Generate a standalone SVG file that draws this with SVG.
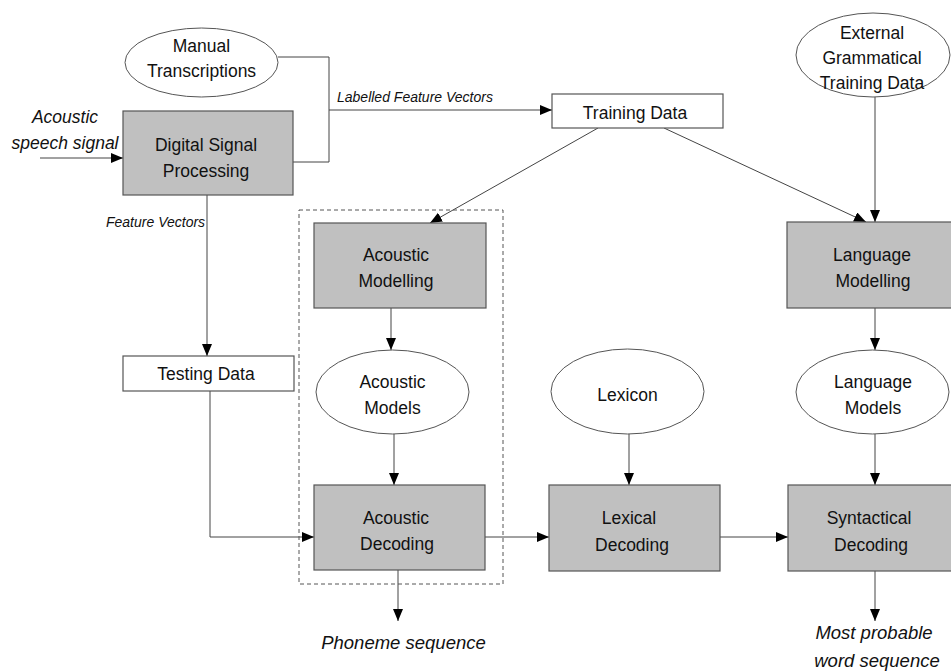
<svg xmlns="http://www.w3.org/2000/svg" width="951" height="671" viewBox="0 0 951 671">
<defs>
<style>
.box{fill:#c0c0c0;stroke:#555;stroke-width:1.2}
.wbox{fill:#fff;stroke:#555;stroke-width:1.2}
.ell{fill:#fff;stroke:#555;stroke-width:1}
.t{font-family:"Liberation Sans",Arial,sans-serif;font-size:17.5px;fill:#111;text-anchor:middle}
.i{font-family:"Liberation Sans",Arial,sans-serif;font-style:italic;fill:#111}
.c{fill:none;stroke:#444;stroke-width:1}
</style>
<marker id="ah" markerUnits="userSpaceOnUse" markerWidth="13" markerHeight="11" refX="12" refY="5" orient="auto">
<path d="M0,0 L12,5 L0,10 z" fill="#000"/>
</marker>
</defs>
<rect width="951" height="671" fill="#fff"/>

<g id="connectors">
<path class="c" d="M40,158 L123,158" marker-end="url(#ah)"/>
<path class="c" d="M278,57 L329,57 L329,162 L293,162"/>
<path class="c" d="M329,110 L552,110" marker-end="url(#ah)"/>
<path class="c" d="M207,195 L207,356" marker-end="url(#ah)"/>
<path class="c" d="M598,128 L430,223" marker-end="url(#ah)"/>
<path class="c" d="M664,128 L866,222" marker-end="url(#ah)"/>
<path class="c" d="M875,97 L875,222" marker-end="url(#ah)"/>
<path class="c" d="M391,308 L391,350" marker-end="url(#ah)"/>
<path class="c" d="M394,434 L394,485" marker-end="url(#ah)"/>
<path class="c" d="M210,391 L210,537 L314,537" marker-end="url(#ah)"/>
<path class="c" d="M398,570 L398,621" marker-end="url(#ah)"/>
<path class="c" d="M485,537 L549,537" marker-end="url(#ah)"/>
<path class="c" d="M720,537 L788,537" marker-end="url(#ah)"/>
<path class="c" d="M629,434 L629,485" marker-end="url(#ah)"/>
<path class="c" d="M875,308 L875,350" marker-end="url(#ah)"/>
<path class="c" d="M875,434 L875,485" marker-end="url(#ah)"/>
<path class="c" d="M875,571 L875,621" marker-end="url(#ah)"/>
</g>

<g id="labels">
<text class="i" x="65" y="123" font-size="17.5" text-anchor="middle">Acoustic</text>
<text class="i" x="65" y="149" font-size="17.5" text-anchor="middle">speech signal</text>
<text class="i" x="337" y="102" font-size="14">Labelled Feature Vectors</text>
<text class="i" x="106" y="227" font-size="14">Feature Vectors</text>
<text class="i" x="403.5" y="649" font-size="18.5" text-anchor="middle">Phoneme sequence</text>
<text class="i" x="874" y="639" font-size="18.5" text-anchor="middle">Most probable</text>
<text class="i" x="877" y="667" font-size="18.5" text-anchor="middle">word sequence</text>
</g>

<g id="acoustic-group">
<rect x="299" y="210" width="204" height="374" fill="none" stroke="#555" stroke-width="1" stroke-dasharray="4,3"/>
</g>

<g id="manual-transcriptions">
<ellipse class="ell" cx="201.5" cy="62.5" rx="76.5" ry="34.5"/>
<text class="t" x="201.5" y="52">Manual</text>
<text class="t" x="201.5" y="77">Transcriptions</text>
</g>

<g id="dsp">
<rect class="box" x="123" y="111" width="170" height="84"/>
<text class="t" x="206" y="150.5">Digital Signal</text>
<text class="t" x="206" y="176.5">Processing</text>
</g>

<g id="training-data">
<rect class="wbox" x="552" y="94" width="171" height="34"/>
<text class="t" x="635" y="119">Training Data</text>
</g>

<g id="external-data">
<ellipse class="ell" cx="873" cy="55" rx="77" ry="42"/>
<text class="t" x="872" y="38.5">External</text>
<text class="t" x="872" y="63.5">Grammatical</text>
<text class="t" x="872" y="88.5">Training Data</text>
</g>

<g id="acoustic-modelling">
<rect class="box" x="314" y="223" width="172" height="85"/>
<text class="t" x="396" y="261">Acoustic</text>
<text class="t" x="396" y="287">Modelling</text>
</g>

<g id="acoustic-models">
<ellipse class="ell" cx="392.5" cy="392" rx="76.5" ry="42"/>
<text class="t" x="392.5" y="387.5">Acoustic</text>
<text class="t" x="392.5" y="413.5">Models</text>
</g>

<g id="testing-data">
<rect class="wbox" x="123" y="356" width="171" height="35"/>
<text class="t" x="206" y="380">Testing Data</text>
</g>

<g id="acoustic-decoding">
<rect class="box" x="314" y="485" width="171" height="85"/>
<text class="t" x="396" y="523.5">Acoustic</text>
<text class="t" x="397" y="550">Decoding</text>
</g>

<g id="lexicon">
<ellipse class="ell" cx="627.5" cy="391.5" rx="76.5" ry="42.5"/>
<text class="t" x="627.5" y="400.5">Lexicon</text>
</g>

<g id="lexical-decoding">
<rect class="box" x="549" y="485" width="171" height="86"/>
<text class="t" x="629" y="524">Lexical</text>
<text class="t" x="632" y="550.5">Decoding</text>
</g>

<g id="language-modelling">
<rect class="box" x="787" y="222" width="171" height="86"/>
<text class="t" x="872" y="261">Language</text>
<text class="t" x="873" y="287">Modelling</text>
</g>

<g id="language-models">
<ellipse class="ell" cx="872.5" cy="392" rx="76.5" ry="42"/>
<text class="t" x="873" y="387.5">Language</text>
<text class="t" x="873" y="413.5">Models</text>
</g>

<g id="syntactical-decoding">
<rect class="box" x="788" y="485" width="171" height="86"/>
<text class="t" x="869" y="524">Syntactical</text>
<text class="t" x="871" y="550.5">Decoding</text>
</g>
</svg>
